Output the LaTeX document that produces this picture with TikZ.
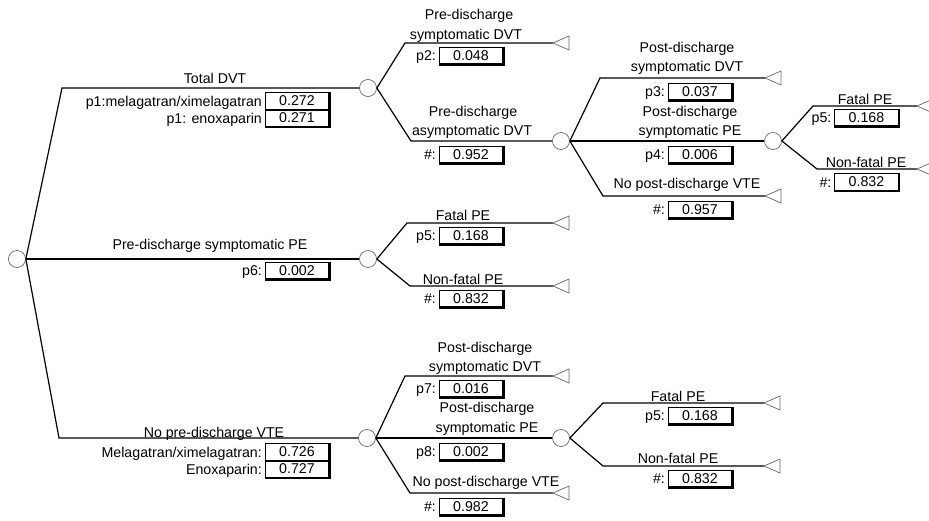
\documentclass[tikz,border=0pt]{standalone}
\usepackage{fontspec}
\setmainfont{Liberation Sans}
\usetikzlibrary{calc}
\newcommand\valnode[5]{%
  \node[valbox] (#1) at (#2,#3) {#5};
  \draw[line width=2.2pt] (#1.south west) -- (#1.south east) -- (#1.north east);
  \node[plbl] (#1l) at ($(#1.west)+(-2.5,5.1)$) {#4};}
\begin{document}
\begin{tikzpicture}[x=1pt,y=-1pt,
  every node/.style={font=\fontsize{14.2}{17}\selectfont},
  branch/.style={line width=1.2pt, black},
  chance/.style={circle, draw=black!60, line width=0.7pt, minimum size=17pt, inner sep=0pt, fill=white},
  termtri/.style={draw=black!60, line width=0.7pt, fill=white},
  lbl/.style={anchor=base, inner sep=0pt},
  plbl/.style={anchor=base east, inner sep=0pt},
  valbox/.style={draw=black, line width=0.9pt, minimum width=64pt, minimum height=17pt, inner sep=0pt}]
\fill[white] (0,0) rectangle (929,520);
\useasboundingbox (0,0) rectangle (929,520);

% chance nodes
\node[chance] (R) at (17,259) {};
\node[chance] (A) at (368,88) {};
\node[chance] (D) at (368,259) {};
\node[chance] (E) at (367,438) {};
\node[chance] (B) at (561,141) {};
\node[chance] (C) at (773,141) {};
\node[chance] (F) at (561,438) {};

% corners
\coordinate (cR1) at (62,88);
\coordinate (cR3) at (59,438);
\coordinate (cA1) at (405,43);
\coordinate (cA2) at (411,141);
\coordinate (cB1) at (600,78);
\coordinate (cB3) at (603,196);
\coordinate (cC1) at (813,106);
\coordinate (cC2) at (817,169);
\coordinate (cD1) at (407,223);
\coordinate (cD2) at (410,286);
\coordinate (cE1) at (405,376);
\coordinate (cE3) at (410,493);
\coordinate (cF1) at (603,403);
\coordinate (cF2) at (603,466);

% terminal apexes
\coordinate (tA1) at (553,43);
\coordinate (tB1) at (765,78);
\coordinate (tB3) at (765,196);
\coordinate (tC1) at (917,106);
\coordinate (tC2) at (917,169);
\coordinate (tD1) at (553,223);
\coordinate (tD2) at (553,286);
\coordinate (tE1) at (553,376);
\coordinate (tE3) at (553,493);
\coordinate (tF1) at (764,403);
\coordinate (tF2) at (764,466);

% branches
\draw[branch] (R.east) -- (cR1) -- (A.west);
\draw[branch] (R.east) -- (D.west);
\draw[branch] (R.east) -- (cR3) -- (E.west);
\draw[branch] (A.east) -- (cA1) -- (tA1);
\draw[branch] (A.east) -- (cA2) -- (B.west);
\draw[branch] (B.east) -- (cB1) -- (tB1);
\draw[branch] (B.east) -- (C.west);
\draw[branch] (B.east) -- (cB3) -- (tB3);
\draw[branch] (C.east) -- (cC1) -- (tC1);
\draw[branch] (C.east) -- (cC2) -- (tC2);
\draw[branch] (D.east) -- (cD1) -- (tD1);
\draw[branch] (D.east) -- (cD2) -- (tD2);
\draw[branch] (E.east) -- (cE1) -- (tE1);
\draw[branch] (E.east) -- (F.west);
\draw[branch] (E.east) -- (cE3) -- (tE3);
\draw[branch] (F.east) -- (cF1) -- (tF1);
\draw[branch] (F.east) -- (cF2) -- (tF2);

% terminal triangles
\foreach \t in {tA1,tB1,tB3,tC1,tC2,tD1,tD2,tE1,tE3,tF1,tF2}
  \draw[termtri] (\t) -- ++(16,-7) -- ++(0,14) -- cycle;

% branch labels
\node[lbl] (l1) at (215,83) {Total DVT};
\node[lbl] (l2) at (210,249) {Pre-discharge symptomatic PE};
\node[lbl] (l3) at (214,437) {No pre-discharge VTE};

\node[lbl] (lA1a) at (469,19) {Pre-discharge};
\node[lbl] (lA1b) at (466,39) {symptomatic DVT};
\node[lbl] (lA2a) at (473,116) {Pre-discharge};
\node[lbl] (lA2b) at (472,135) {asymptomatic DVT};

\node[lbl] (lB1a) at (687,52) {Post-discharge};
\node[lbl] (lB1b) at (687,71) {symptomatic DVT};
\node[lbl] (lB2a) at (690,116) {Post-discharge};
\node[lbl] (lB2b) at (690,135) {symptomatic PE};
\node[lbl] (lB3) at (687,188) {No post-discharge VTE};

\node[lbl] (lC1) at (865,104) {Fatal PE};
\node[lbl] (lC2) at (866,167) {Non-fatal PE};

\node[lbl] (lD1) at (463,220) {Fatal PE};
\node[lbl] (lD2) at (463,284) {Non-fatal PE};

\node[lbl] (lE1a) at (485,352) {Post-discharge};
\node[lbl] (lE1b) at (485,371) {symptomatic DVT};
\node[lbl] (lE2a) at (487,412) {Post-discharge};
\node[lbl] (lE2b) at (487,432) {symptomatic PE};
\node[lbl] (lE3) at (486,486) {No post-discharge VTE};

\node[lbl] (lF1) at (678,401) {Fatal PE};
\node[lbl] (lF2) at (678,463) {Non-fatal PE};

% value boxes
\valnode{v1a}{297}{101}{p1:melagatran/ximelagatran}{0.272}
\valnode{v1b}{297}{118}{p1: enoxaparin}{0.271}
\valnode{v2}{297}{270.5}{p6:}{0.002}
\valnode{v3a}{297}{452}{Melagatran/ximelagatran:}{0.726}
\valnode{v3b}{297}{469}{Enoxaparin:}{0.727}

\valnode{vA1}{471}{55.5}{p2:}{0.048}
\valnode{vA2}{471}{154.5}{\#:}{0.952}

\valnode{vB1}{700}{91.5}{p3:}{0.037}
\valnode{vB2}{700}{154.5}{p4:}{0.006}
\valnode{vB3}{700}{209.5}{\#:}{0.957}

\valnode{vC1}{866.5}{117.5}{p5:}{0.168}
\valnode{vC2}{866.5}{182}{\#:}{0.832}

\valnode{vD1}{471}{235.5}{p5:}{0.168}
\valnode{vD2}{471}{298.5}{\#:}{0.832}

\valnode{vE1}{471}{388.5}{p7:}{0.016}
\valnode{vE2}{471}{451.5}{p8:}{0.002}
\valnode{vE3}{471}{506.5}{\#:}{0.982}

\valnode{vF1}{700}{415.5}{p5:}{0.168}
\valnode{vF2}{700}{478.5}{\#:}{0.832}
\end{tikzpicture}
\end{document}
